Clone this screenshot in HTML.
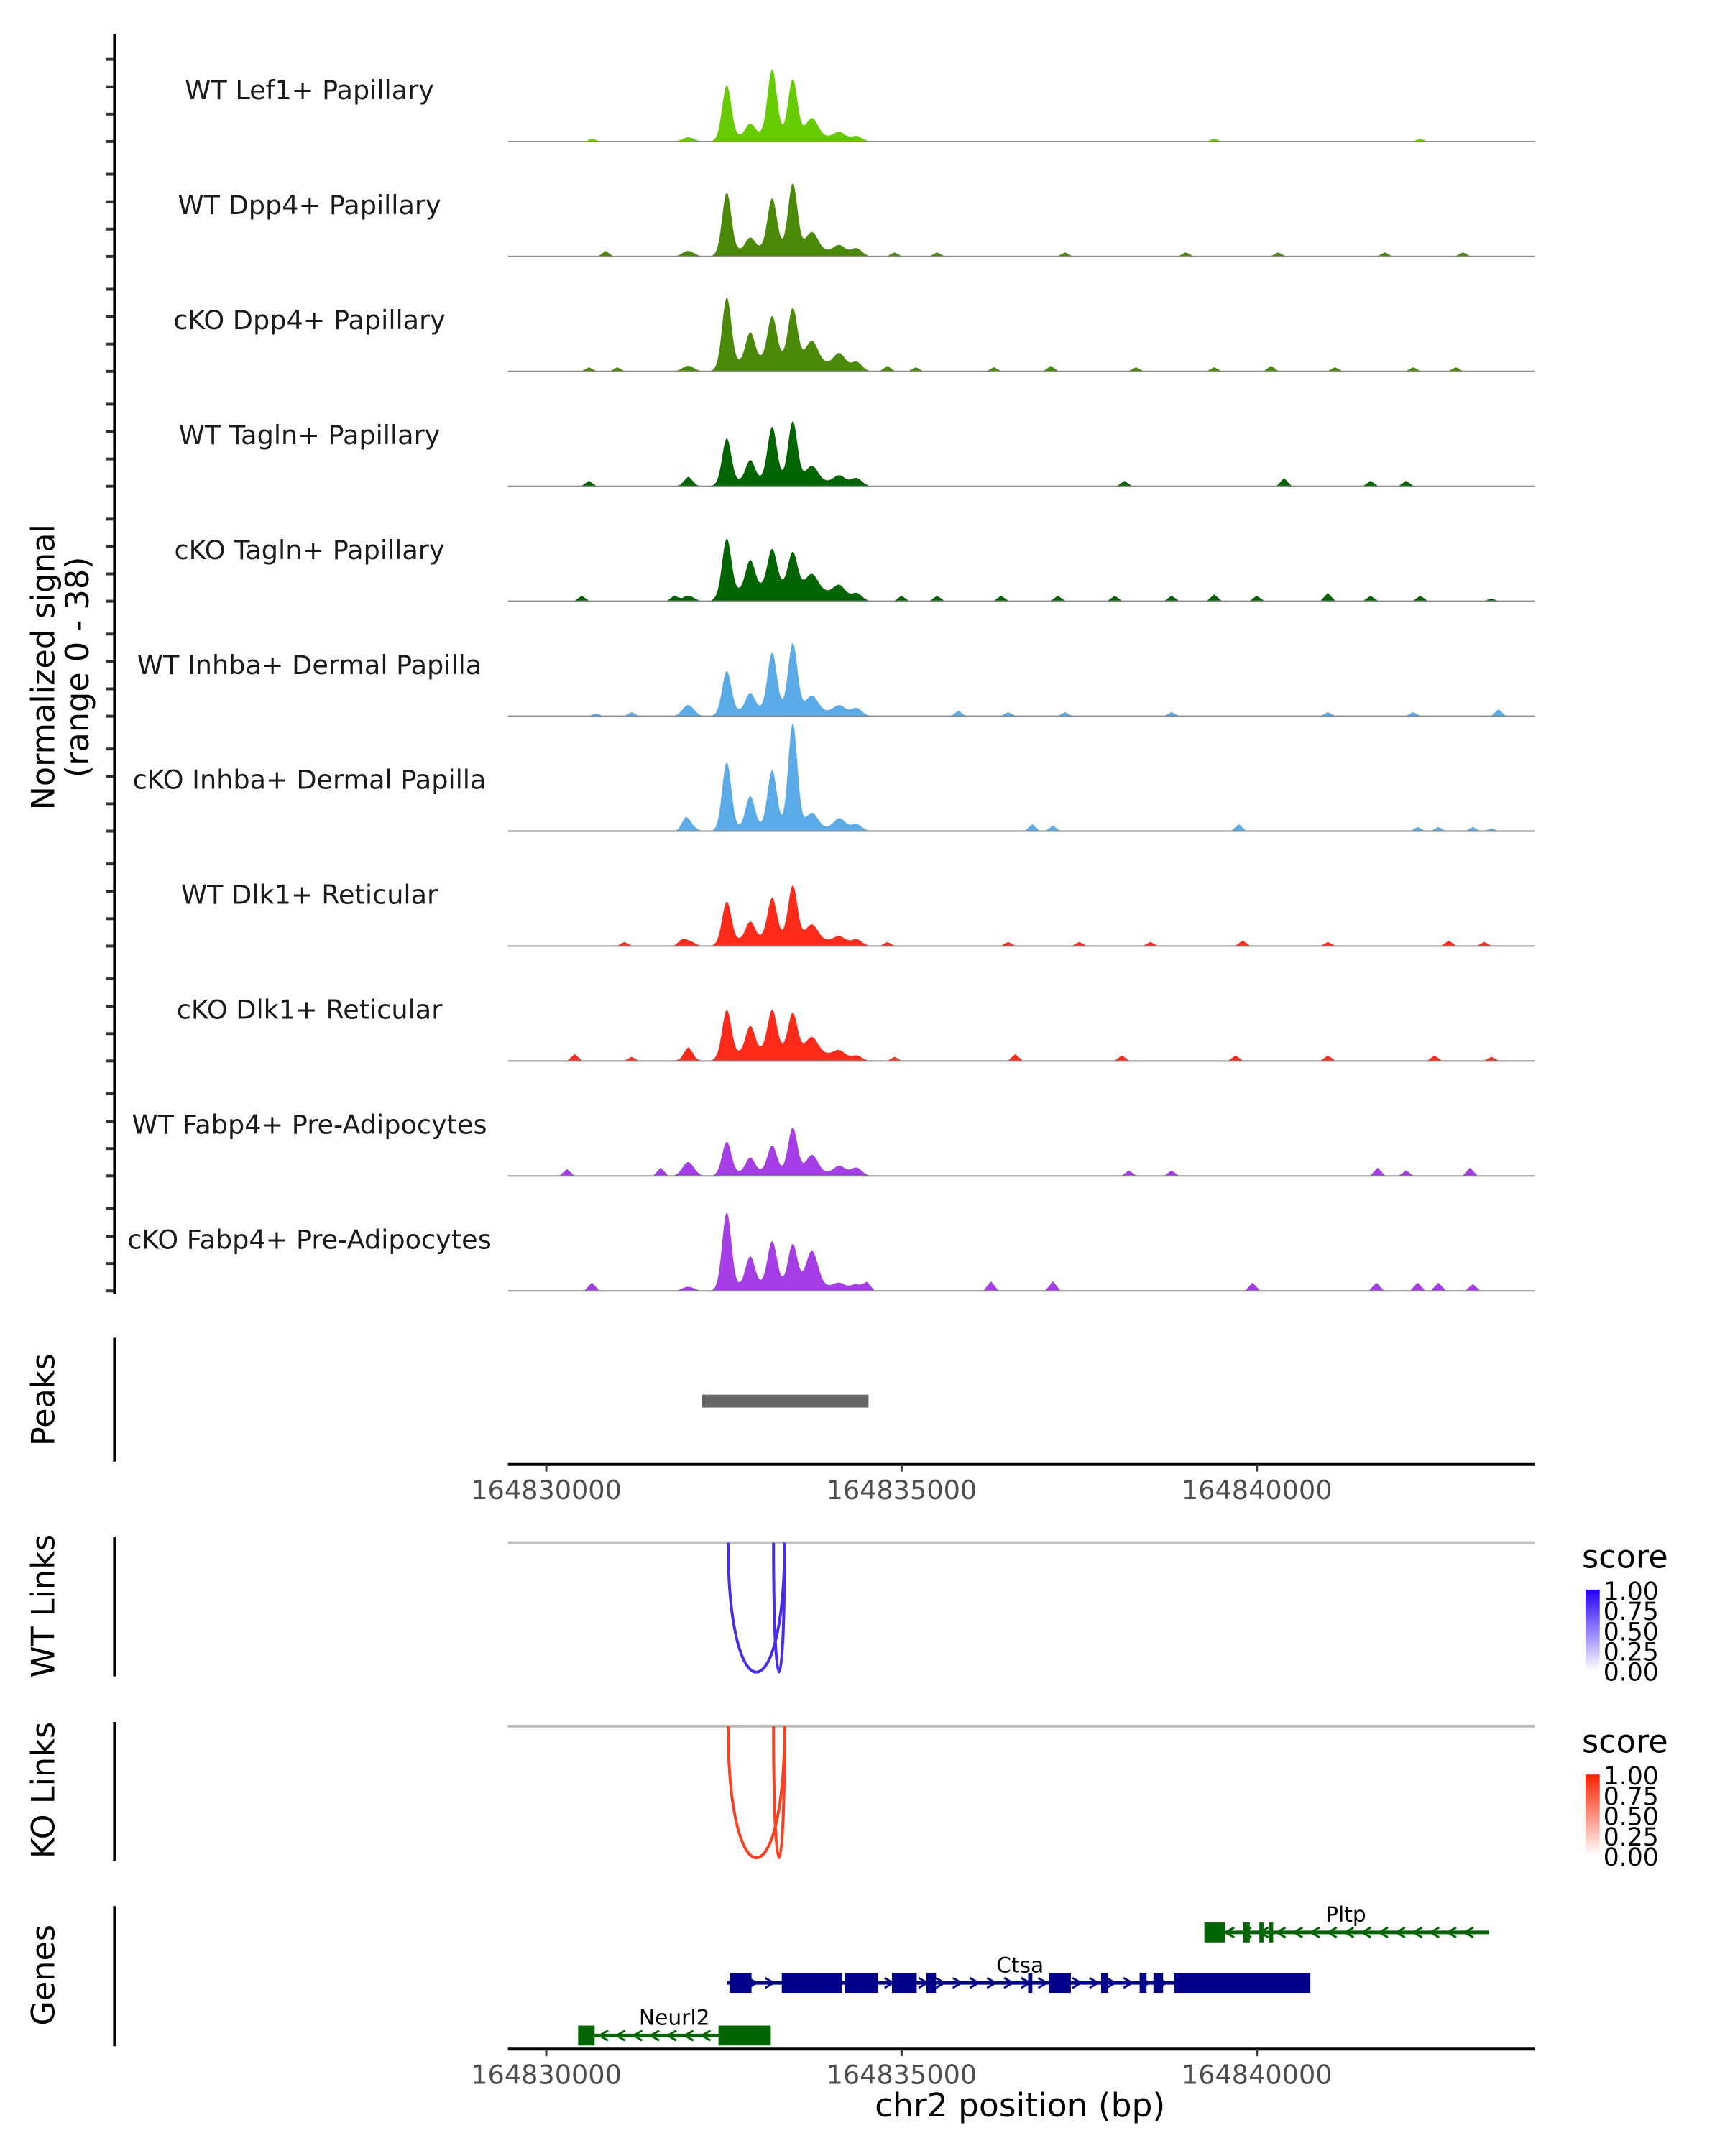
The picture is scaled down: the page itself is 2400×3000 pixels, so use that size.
<!DOCTYPE html>
<html><head><meta charset="utf-8"><style>
html,body{margin:0;padding:0;background:#fff}
svg{display:block;font-family:"DejaVu Sans","Liberation Sans",sans-serif}
</style></head><body>
<svg id="fig" width="2400" height="3000" viewBox="0 0 2400 3000" xmlns="http://www.w3.org/2000/svg">
<g transform="scale(0.98966)">
<g id="tracks"></g>
<g id="axes"></g>
</g>
</svg>
<script>
// ---- data (positions are bp offsets from 164830000; values are normalized signal) ----
const trackNames = ["WT Lef1+ Papillary","WT Dpp4+ Papillary","cKO Dpp4+ Papillary","WT Tagln+ Papillary","cKO Tagln+ Papillary","WT Inhba+ Dermal Papilla","cKO Inhba+ Dermal Papilla","WT Dlk1+ Reticular","cKO Dlk1+ Reticular","WT Fabp4+ Pre-Adipocytes","cKO Fabp4+ Pre-Adipocytes"];
const trackColors = ["#66cc00","#4a8a08","#4a8a08","#006400","#006400","#5aabe8","#5aabe8","#ff2a1a","#ff2a1a","#a53ee6","#a53ee6"];
const peakPos = [2539,2869,3179,3469,3740,4128,4360,1997];
const lef1Vals = [19,4,23,19.5,6,2.5,2,1.5];
const dpp4WTVals = [21.5,4,17.5,23,6,3,3,2];
const dpp4KOVals = [24.5,10,15,18,7,5,3.5,2];
const taglnWTVals = [16,7,18.5,20.5,5,3,3,1.5];
const taglnKOVals = [20,10,13,12,5,4,3,2];
const inhbaWTVals = [15,6,20,23.5,5,3,3,4];
const inhbaKOVals = [24,11,20,37,5,4,2.5,3];
const dlk1WTVals = [14.5,6,14,18.5,5,2.5,2.5,2];
const dlk1KOVals = [16.5,9,14,13,5,2.5,2,2.5];
const fabp4WTVals = [11.5,5,9,15.5,6,3,3,5];
const fabp4KOVals = [27,10,15,14,12,2,2.5,1.5];
const trackVals = [lef1Vals,dpp4WTVals,dpp4KOVals,taglnWTVals,taglnKOVals,inhbaWTVals,inhbaKOVals,dlk1WTVals,dlk1KOVals,fabp4WTVals,fabp4KOVals];
const baseLevels = [3,3.5,5,3,6,3,2,3.5,4.5,2,3];
const smallBumps = [
 [[650,1],[9400,1],[12300,1]],
 [[835,2],[4900,1.5],[5500,1.5],[7300,1.5],[9000,1.5],[10300,1.5],[11800,1.5],[12900,1.5]],
 [[600,1.5],[1000,1.5],[4800,2],[5200,1.5],[6300,1.5],[7100,2],[8300,1.5],[9400,1.5],[10200,2],[11100,1.5],[12200,1.5],[12800,1.5]],
 [[600,2],[2000,2],[8137,2],[10384,3],[11600,2],[12100,2]],
 [[500,2],[1800,2],[5000,2],[5500,2],[6400,2],[7200,2],[8000,2],[8800,2],[9400,2.5],[10000,2],[11000,3],[11600,2],[12300,2],[13300,1]],
 [[700,1],[1200,1.5],[5800,2],[6500,1.5],[7300,1.5],[8800,1.5],[11000,1.5],[12200,1.5],[13400,2.5]],
 [[1958,2.5],[6840,2.5],[7130,2],[9745,2.5],[12263,1.5],[12554,1.5],[13038,1.5],[13300,1]],
 [[1100,1.5],[1900,1.5],[4800,1.5],[6500,1.5],[7500,1.5],[8500,1.5],[9800,2],[11000,1.5],[12700,2],[13200,1.5]],
 [[400,2.5],[1200,1.5],[2000,2.5],[4900,1.5],[6600,2.5],[8100,2],[9700,2],[11000,2],[12500,2],[13300,1.5]],
 [[292,2.5],[1610,3],[8200,2],[8800,2],[11700,3],[12100,2],[13000,3]],
 [[641,3],[4515,3],[6258,3.5],[7130,3.5],[9939,3],[11682,3],[12263,3],[12554,3],[13038,2.5]]
];
const peakRegion = [2191,4535];
const xTicks = [0,5000,10000];
const xTickLabels = ["164830000","164835000","164840000"];
const wtLinks = [[2559,3353,1],[3198,3353,1]];
const koLinks = [[2559,3353,1],[3198,3353,1]];
const geneNames = ["Pltp","Ctsa","Neurl2"];
const geneSpans = [[9261,13271],[2539,10752],[448,3159]];
const geneStrand = [-1,1,-1];
const geneColors = ["#006400","#00008b","#006400"];
const geneExons = [
 [[9261,9551],[9803,9900],[10035,10093],[10171,10229]],
 [[2578,2888],[3314,4166],[4205,4670],[4864,5213],[5348,5484],[6781,6840],[7072,7382],[7808,7905],[8350,8447],[8544,8680],[8835,10752]],
 [[448,680],[2423,3159]]
];
const legendLabels = ["1.00","0.75","0.50","0.25","0.00"];

// ---- scales ----
const NS="http://www.w3.org/2000/svg";
const X0=714, X1=2158;
function xs(off){return 768+off*0.0999;}
const xmin=(X0-768)/0.0999, xmax=(X1-768)/0.0999;
const BASE0=199, STEP=161.6, PXU=3.9;
function el(tag,attrs,parent){const e=document.createElementNS(NS,tag);for(const k in attrs)e.setAttribute(k,attrs[k]);parent.appendChild(e);return e;}
const T=document.getElementById('tracks'), A=document.getElementById('axes');

function signalAt(i,p){
  let v=0;const vals=trackVals[i];
  for(let k=0;k<peakPos.length;k++){const s=(k<4?90:115);const d=(p-peakPos[k])/s;if(Math.abs(d)<4)v+=vals[k]*Math.exp(-d*d);}
  const bd=Math.abs(p-3300);if(bd<1000)v+=baseLevels[i]*(1-Math.pow(bd/1000,2));
  for(const b of smallBumps[i]){const d=Math.abs(p-b[0]);if(d<110)v+=b[1]*(1-d/110);}
  return v;
}
for(let i=0;i<trackNames.length;i++){
  const by=BASE0+i*STEP;
  let d="M"+X0+","+by;
  for(let p=xmin;p<=xmax;p+=10){const v=Math.min(signalAt(i,p),39);d+=" L"+xs(p).toFixed(1)+","+(by-v*PXU).toFixed(1);}
  d+=" L"+X1+","+by+" Z";
  const path=el('path',{d:d,fill:trackColors[i],stroke:'none'},T);
  
  
  const bl=el('line',{x1:X0,x2:X1,y1:by,y2:by,stroke:'#8a8a8a','stroke-width':2},T);
  
  
  const t=el('text',{x:435,y:by-70,'text-anchor':'middle','dominant-baseline':'middle','font-size':37,fill:'#1a1a1a'},T);
  t.textContent=trackNames[i];
  
  
  for(let k=0;k<4;k++){
    const ty=by-k*38.5;
    const tk=el('line',{x1:149,x2:161,y1:ty,y2:ty,stroke:'#333','stroke-width':4},A);
    
    
  }
}
// left axes
function vaxis(y1,y2,name){const l=el('line',{x1:161,x2:161,y1:y1,y2:y2,stroke:'#000','stroke-width':4},A);}
vaxis(48,1819,'signal-y-axis');vaxis(1881,2055,'peaks-y-axis');vaxis(2161,2357,'wt-links-y-axis');vaxis(2421,2616,'ko-links-y-axis');vaxis(2680,2877,'genes-y-axis');
function vtitle(x,y,txt,name){const t=el('text',{x:x,y:y,'text-anchor':'middle','dominant-baseline':'middle','font-size':45,fill:'#000',transform:'rotate(-90 '+x+' '+y+')'},A);t.textContent=txt;}
vtitle(64,938,'Normalized signal','y-axis-title');vtitle(112,938,'(range 0 - 38)','y-axis-range');
vtitle(64,1968,'Peaks','peaks-title');vtitle(64,2258,'WT Links','wt-links-title');vtitle(64,2517,'KO Links','ko-links-title');vtitle(64,2777,'Genes','genes-title');
// peaks
const pk=el('rect',{x:xs(peakRegion[0]),y:1961,width:xs(peakRegion[1])-xs(peakRegion[0]),height:18,fill:'#666'},A);


// x axes
function xaxis(y,name){
  const l=el('line',{x1:X0,x2:X1,y1:y,y2:y,stroke:'#000','stroke-width':4},A);
  for(let k=0;k<xTicks.length;k++){
    const x=xs(xTicks[k]);
    const tk=el('line',{x1:x,x2:x,y1:y,y2:y+10,stroke:'#333','stroke-width':3},A);
    const t=el('text',{x:x,y:y+38,'text-anchor':'middle','dominant-baseline':'middle','font-size':37,fill:'#4d4d4d'},A);t.textContent=xTickLabels[k];
  }
}
xaxis(2059,'peaks-x-axis');xaxis(2881,'genes-x-axis');
const xt=el('text',{x:1434,y:2963,'text-anchor':'middle','dominant-baseline':'middle','font-size':46,fill:'#000'},A);xt.textContent='chr2 position (bp)';

// links
function links(arr,y0,yb,color,name){
  const g=el('line',{x1:X0,x2:X1,y1:y0,y2:y0,stroke:'#bebebe','stroke-width':4},A);
  for(const lk of arr){
    const a=xs(lk[0]),b=xs(lk[1]);const cy=y0+(yb-y0)/0.75;
    const p=el('path',{d:`M${a},${y0} C${a},${cy} ${b},${cy} ${b},${y0}`,fill:'none',stroke:color,'stroke-width':4,'stroke-opacity':lk[2]},A);
    
  }
}
links(wtLinks,2169,2351,'#4a2cf0','wt-link');links(koLinks,2427,2612,'#ff4020','ko-link');
// legends
const defs=el('defs',{},A);
function legend(y,topColor,id,name){
  const lg=el('linearGradient',{id:id,x1:0,y1:0,x2:0,y2:1},defs);
  el('stop',{offset:0,'stop-color':topColor},lg);el('stop',{offset:1,'stop-color':'#ffffff'},lg);
  const t=el('text',{x:2224,y:y,'font-size':45,'dominant-baseline':'middle',fill:'#000'},A);t.textContent='score';
  const r=el('rect',{x:2229,y:y+43,width:20,height:114,fill:`url(#${id})`},A);
  for(let k=0;k<legendLabels.length;k++){
    const ly=y+47+k*28.5;
    const lt=el('text',{x:2254,y:ly,'font-size':35,'dominant-baseline':'middle',fill:'#000'},A);lt.textContent=legendLabels[k];
    
  }
}
legend(2192,'#2200ff','gw','wt-legend');legend(2452,'#ff2000','gk','ko-legend');
// genes
const geneY=[2717,2788,2862];
const labelX=[1892,1434,948];
for(let g=0;g<geneNames.length;g++){
  const y=geneY[g],c=geneColors[g];const a=xs(geneSpans[g][0]),b=xs(geneSpans[g][1]);
  const gl=el('line',{x1:a,x2:b,y1:y,y2:y,stroke:c,'stroke-width':5},A);
  for(let x=a+12;x<b-5;x+=24){
    const s=geneStrand[g]*6;
    el('path',{d:`M${x-s},${y-7} L${x+s},${y} L${x-s},${y+7}`,fill:'none',stroke:c,'stroke-width':3},A);
  }
  for(const e of geneExons[g]){
    const r=el('rect',{x:xs(e[0]),y:y-14,width:Math.max(xs(e[1])-xs(e[0]),4),height:28,fill:c},A);
    
  }
  const t=el('text',{x:labelX[g],y:y-15,'text-anchor':'middle','font-size':30,fill:'#000'},A);t.textContent=geneNames[g];
  
}
</script>
</body></html>
